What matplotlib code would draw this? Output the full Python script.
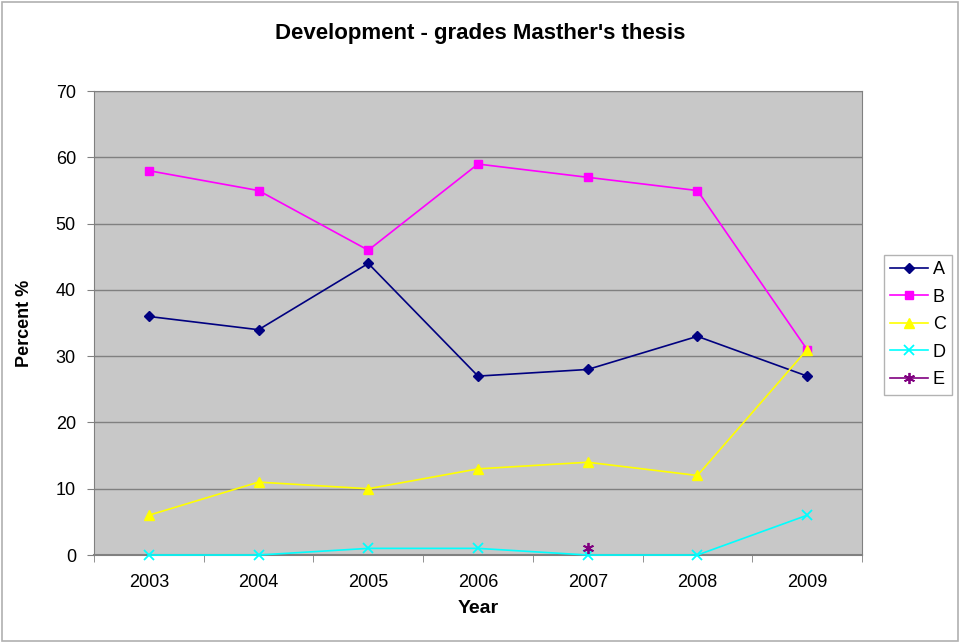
import matplotlib
matplotlib.use('Agg')
import matplotlib.pyplot as plt
import numpy as np

years = ['2003', '2004', '2005', '2006', '2007', '2008', '2009']
a_vals = [36, 34, 44, 27, 28, 33, 27]
b_vals = [58, 55, 46, 59, 57, 55, 31]
c_vals = [6, 11, 10, 13, 14, 12, 31]
d_vals = [0, 0, 1, 1, 0, 0, 6]
e_vals = [np.nan, np.nan, np.nan, np.nan, 1, np.nan, np.nan]

plt.rcParams['font.family'] = ['Liberation Sans', 'DejaVu Sans']

fig = plt.figure(figsize=(9.6, 6.42), dpi=100)
fig.patches.append(plt.Rectangle((0.002, 0.002), 0.996, 0.995, transform=fig.transFigure,
                                 fill=False, edgecolor='#b0b0b0', linewidth=1.2))
ax = fig.add_axes([0.0979, 0.1355, 0.8, 0.7225])
ax.set_facecolor('#c8c8c8')

x = np.arange(len(years))
ax.plot(x, a_vals, color='#000080', marker='D', markersize=5, lw=1.2, label='A', clip_on=False)
ax.plot(x, b_vals, color='#ff00ff', marker='s', markersize=6, lw=1.2, label='B', clip_on=False)
ax.plot(x, c_vals, color='#ffff00', marker='^', markersize=7, lw=1.2, label='C', clip_on=False)
ax.plot(x, d_vals, color='#00ffff', marker='x', markersize=7, mew=1.3, lw=1.2, label='D',
        clip_on=False, zorder=3)
ax.plot(x, e_vals, color='#800080', marker=(6, 2, 0), markersize=8, mew=1.3, lw=1.2, label='E',
        clip_on=False, zorder=3)

ax.set_xlim(-0.5, 6.5)
ax.set_ylim(0, 70)
ax.set_yticks(range(0, 71, 10))
ax.yaxis.grid(True, color='#808080', lw=1.0)
ax.set_axisbelow(True)
ax.set_xticks(x)
ax.set_xticklabels(years, fontsize=13)
ax.set_xticks(np.arange(-0.5, 7, 1), minor=True)
ax.tick_params(axis='x', which='major', length=0, pad=14)
ax.tick_params(axis='x', which='minor', length=5, color='#808080')
ax.tick_params(axis='y', length=5, color='#808080', pad=8, labelsize=13)

for side in ['top', 'right', 'left', 'bottom']:
    ax.spines[side].set_color('#808080')
ax.spines['bottom'].set_linewidth(1.5)

fig.text(0.5, 1 - 33 / 642, "Development - grades Masther's thesis", fontsize=16,
         fontweight='bold', ha='center', va='center')
ax.set_xlabel('Year', fontsize=14, fontweight='bold', labelpad=6)
ax.set_ylabel('Percent %', fontsize=13, fontweight='bold')
ax.yaxis.set_label_coords((33 - 94) / 768, (555 - 323) / 464)

leg = fig.legend(loc='upper left', bbox_to_anchor=(884 / 960, 1 - 255 / 642), frameon=True,
                 fancybox=False, edgecolor='#a0a0a0', fontsize=13, handlelength=2.1,
                 labelspacing=0.58, borderpad=0.35, handletextpad=0.25, borderaxespad=0)
leg.get_frame().set_linewidth(1.0)

fig.savefig('out.png', dpi=100)
